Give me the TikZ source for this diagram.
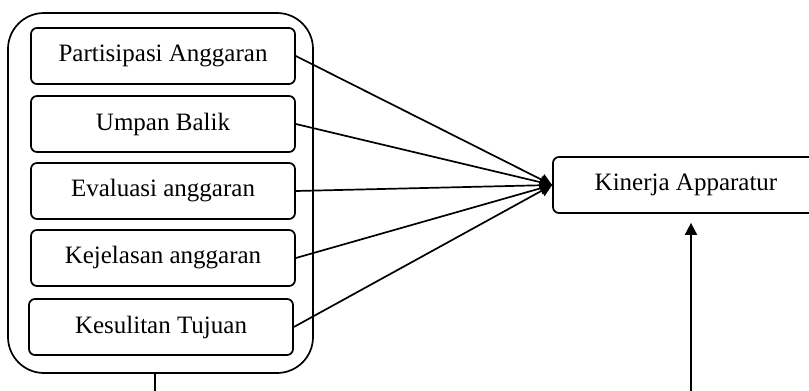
\documentclass[tikz,border=0pt]{standalone}
\usepackage{fontspec}
\setmainfont{Liberation Serif}
\usetikzlibrary{arrows.meta}

\begin{document}
\begin{tikzpicture}[x=0.5pt,y=-0.5pt,line width=0.85pt,font=\fontsize{12.5}{15}\selectfont]

\tikzstyle{var}=[draw,rounded corners=3pt,minimum width=132pt,minimum height=28pt,inner sep=0pt]
\tikzstyle{arr}=[-{Triangle[length=6pt,width=6pt]}]

\useasboundingbox (0,0) rectangle (809,391);

\node [draw,rounded corners=18pt,minimum width=152.5pt,minimum height=180pt] (grp) at (160.5,193) {};
\node [var] (pa) at (163,56) {Partisipasi Anggaran};
\node [var] (ub) at (163,124) {Umpan Balik};
\node [var] (ea) at (163,191) {Evaluasi anggaran};
\node [var] (ka) at (163,258) {Kejelasan anggaran};
\node [var] (kt) at (161,327) {Kesulitan Tujuan};
\node [var,minimum width=133pt] (kin) at (686,185) {Kinerja Apparatur};

\coordinate (b) at (155,420);
\coordinate (m) at (691,420);

\foreach \v in {pa,ub,ea,ka,kt}
  \draw [arr] (\v.east) -- (kin.west);

\draw (grp.south -| b) -- (b);
\draw [arr,shorten >=4.5pt] (m) -- (kin.south -| m);
\end{tikzpicture}
\end{document}
